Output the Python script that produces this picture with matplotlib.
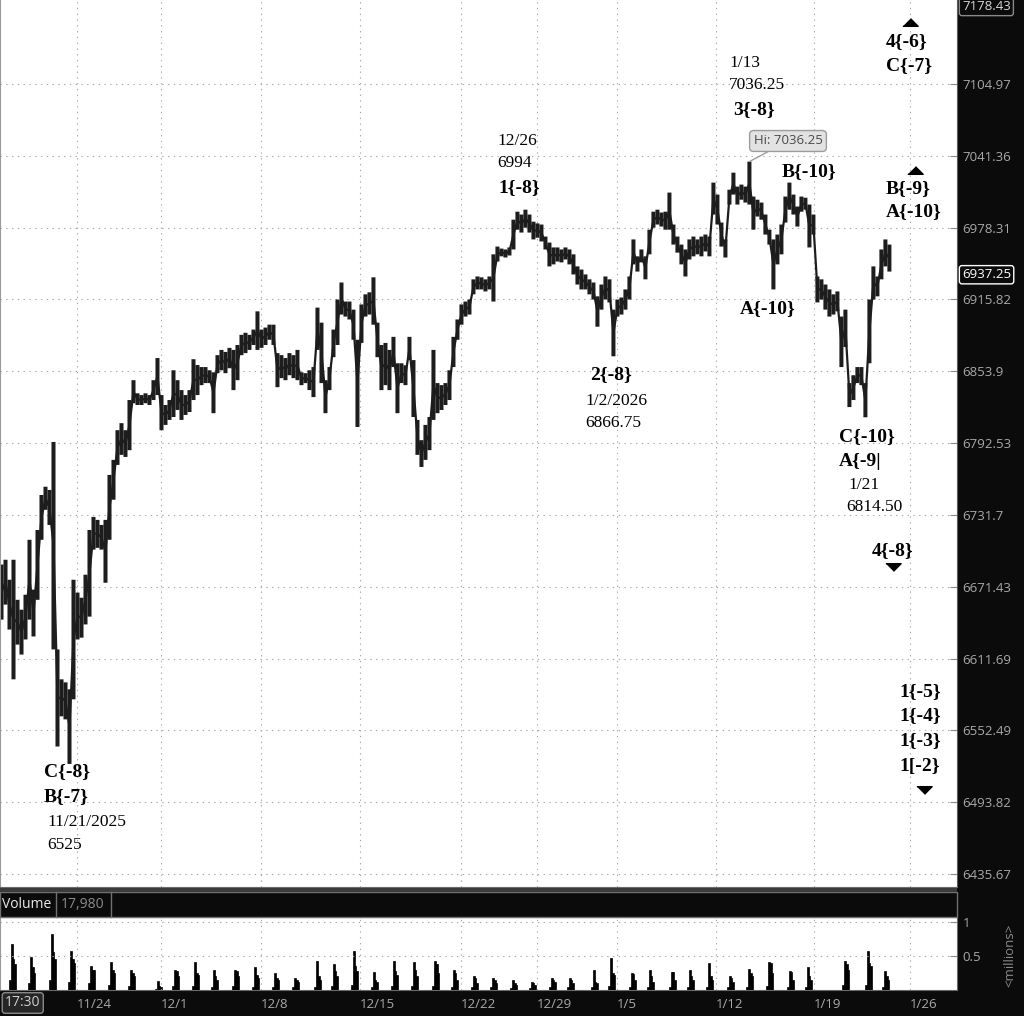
import numpy as np
import matplotlib
matplotlib.use("Agg")
import matplotlib.pyplot as plt
import matplotlib.transforms as mtransforms
from matplotlib.patches import Rectangle
from matplotlib.lines import Line2D

# ---- price bars (high / low per bar) ----
highs = [6690, 6694, 6677.25, 6694, 6660.5, 6652.25, 6664.75, 6710.75, 6669, 6719,
         6748.5, 6755.5, 6752.75, 6793.5, 6619.25, 6594.5, 6592, 6586.25, 6677.25, 6666.5,
         6662.25, 6681.5, 6719, 6730, 6727.5, 6723.25, 6727.5, 6765.5, 6778.25, 6803.5,
         6809.5, 6803.5, 6829.25, 6846.25, 6835, 6833.5, 6835, 6833.5, 6846.25, 6865.25,
         6833.5, 6825, 6829.25, 6854.75, 6846.25, 6837.75, 6833.5, 6837.75, 6864.25, 6859.25,
         6857.5, 6857.5, 6854.75, 6853, 6867.75, 6872.25, 6870.5, 6874, 6872.25, 6876.5,
         6885.25, 6887, 6885.25, 6889.75, 6905.5, 6889.75, 6891.5, 6894, 6894, 6869.5,
         6867.75, 6865.25, 6869.5, 6867.75, 6872.25, 6853, 6852.25, 6854.75, 6857.5, 6908.75,
         6895.75, 6846.25, 6857.5, 6889.75, 6915.75, 6930.5, 6914, 6914, 6907, 6881,
         6911.5, 6920.25, 6922, 6935, 6895.75, 6876.5, 6878.25, 6872.25, 6883.5, 6860.75,
         6860.75, 6859, 6883.5, 6863.5, 6812.25, 6795, 6808, 6814.75, 6872.25, 6843.75,
         6842, 6843.75, 6854.75, 6883.5, 6898.5, 6911.5, 6914, 6915.75, 6933.25, 6935.75,
         6935, 6933.25, 6935.75, 6955, 6961.75, 6960, 6959.25, 6961, 6985.25, 6992.25,
         6989.75, 6994, 6989.75, 6983.5, 6982, 6981, 6970.5, 6965.25, 6961, 6961,
         6959.25, 6961, 6959.25, 6955, 6944.5, 6941.75, 6937.5, 6933.25, 6930.5, 6918.5,
         6928.75, 6935.75, 6933.25, 6907, 6915.75, 6917.5, 6924.5, 6935.75, 6968, 6953.25,
         6959.25, 6953.25, 6976.5, 6992.25, 6994, 6991.5, 6992.25, 7009, 6981, 6970.5,
         6963.5, 6959.25, 6968, 6970.5, 6968, 6970.5, 6972.25, 6970.5, 7017.75, 7007.25,
         6982.75, 6968, 7011.5, 7026.5, 7014.25, 7016, 7014.25, 7036.25, 7005.5, 7002.75,
         7000.25, 6989.75, 6976.5, 6968, 6972.25, 6981, 7005.5, 7017.75, 7007.25, 6996.75,
         7005.5, 7004.5, 6998.5, 6989.75, 6935.75, 6933.25, 6928.75, 6924.5, 6920.25, 6922.75,
         6901, 6907, 6843.75, 6850.5, 6857.5, 6857.5, 6843.75, 6915.75, 6944.5, 6935.75,
         6959.25, 6968, 6963.5]
lows = [6644, 6656.5, 6635.75, 6594.5, 6623.25, 6615, 6627.5, 6644, 6630, 6660.5,
        6710.75, 6736, 6723.25, 6619.25, 6539.25, 6564, 6561.5, 6525, 6578, 6627.5,
        6629, 6640, 6646.5, 6702.5, 6704, 6702.5, 6674.75, 6710.75, 6744.5, 6774,
        6782.5, 6780.75, 6786.5, 6826.5, 6825, 6825, 6826.5, 6825, 6829.25, 6833.5,
        6803.5, 6808, 6812.25, 6814.75, 6820.75, 6812.25, 6816.5, 6819, 6829.25, 6833.5,
        6842, 6843.75, 6843.75, 6818, 6852.25, 6854.75, 6852.25, 6856.5, 6837.75, 6846.25,
        6867.75, 6869.5, 6872.25, 6876.5, 6872.25, 6874, 6876.5, 6881, 6876.5, 6840.25,
        6848, 6846.25, 6850.5, 6848, 6846.25, 6842, 6843.75, 6837.75, 6831.75, 6872.25,
        6843.75, 6818, 6837.75, 6866, 6876.5, 6902.75, 6901, 6898.5, 6881, 6806.25,
        6878.25, 6901, 6902.75, 6894, 6866, 6837.75, 6842, 6837.75, 6857.5, 6818,
        6843.75, 6842, 6863.5, 6814.75, 6782.5, 6772.25, 6778.25, 6786.5, 6812.25, 6818,
        6820.75, 6825, 6829.25, 6857.5, 6881, 6894, 6901, 6902.75, 6920.25, 6924.5,
        6924.5, 6922.75, 6924.5, 6914, 6948.75, 6953.25, 6952.25, 6954, 6959.25, 6976.5,
        6974, 6978.25, 6974, 6968, 6969.5, 6966.25, 6959.25, 6944.5, 6946.25, 6948.75,
        6948, 6950.5, 6946.25, 6937.5, 6928.75, 6924.5, 6924.5, 6920.25, 6915.75, 6892.25,
        6907, 6915.75, 6913.25, 6866.75, 6901, 6902.75, 6907, 6915.75, 6946.25, 6940,
        6948, 6933.25, 6955, 6978.25, 6981, 6979.25, 6976.5, 6976.5, 6963.5, 6956.5,
        6946.25, 6935.75, 6950.5, 6953.25, 6955, 6953.25, 6957.5, 6953.25, 6989.75, 6981,
        6961.75, 6952.25, 6998.5, 7007.25, 6998.5, 7002.75, 7000.25, 6998.5, 6976.5, 6988,
        6985.25, 6972.25, 6963.5, 6924.5, 6946.25, 6955, 6982.75, 6994, 6989.75, 6979.25,
        6992.25, 6994, 6961, 6972.25, 6913.25, 6915.75, 6907, 6901, 6902.75, 6905.5,
        6857.5, 6874.75, 6823.25, 6829.25, 6843.75, 6842, 6814.5, 6860.75, 6915.75, 6918.5,
        6933.25, 6944.5, 6940]

last_price = 6937.25
hi_price = 7036.25

price_ticks = [7104.97, 7041.36, 6978.31, 6915.82, 6853.9, 6792.53,
               6731.7, 6671.43, 6611.69, 6552.49, 6493.82, 6435.67]
price_labels = ["7104.97", "7041.36", "6978.31", "6915.82", "6853.9", "6792.53",
                "6731.7", "6671.43", "6611.69", "6552.49", "6493.82", "6435.67"]

date_ticks = [18.9, 39.9, 64.9, 89.6, 114.9, 133.9, 153.9, 178.6, 203.1, 227.1]
date_labels = ["11/24", "12/1", "12/8", "12/15", "12/22", "12/29", "1/5", "1/12", "1/19", "1/26"]

# ---- volume (millions), one cluster per session ----
vol_center = [2.6, 7.4, 12.6, 17.4, 22.4, 27.4, 32.4, 39.1, 43.4, 48.4, 53.1, 58.4, 63.4,
              68.4, 73.4, 78.9, 83.1, 88.1, 93.1, 98.1, 103.1, 108.4, 113.1, 118.1, 122.9,
              127.9, 132.6, 137.6, 142.1, 148.1, 152.4, 157.6, 162.1, 167.6, 172.1, 176.9,
              182.1, 186.9, 191.9, 197.1, 201.6, 210.9, 216.6, 220.9]
vol_pre = [0.15, 0.10, 0.15, 0.12, 0.10, 0.08, 0.06, 0.02, 0.06, 0.06, 0.05, 0.06, 0.05,
           0.05, 0.04, 0.05, 0.06, 0.08, 0.05, 0.06, 0.06, 0.06, 0.05, 0.04, 0.04,
           0.03, 0.03, 0.04, 0.04, 0.04, 0.06, 0.05, 0.05, 0.05, 0.05, 0.05,
           0.04, 0.05, 0.06, 0.05, 0.05, 0.08, 0.08, 0.05]
vol_peak = [0.68, 0.49, 0.82, 0.57, 0.35, 0.41, 0.30, 0.13, 0.30, 0.41, 0.30, 0.29, 0.33,
            0.25, 0.17, 0.42, 0.38, 0.57, 0.27, 0.42, 0.41, 0.42, 0.29, 0.20, 0.17,
            0.14, 0.11, 0.17, 0.17, 0.30, 0.47, 0.25, 0.29, 0.27, 0.30, 0.39,
            0.20, 0.31, 0.41, 0.28, 0.33, 0.42, 0.57, 0.28]
vol_mid = [0.45, 0.33, 0.55, 0.45, 0.30, 0.30, 0.25, 0.06, 0.28, 0.25, 0.20, 0.28, 0.22,
           0.18, 0.15, 0.20, 0.28, 0.35, 0.15, 0.28, 0.30, 0.38, 0.25, 0.18, 0.15,
           0.10, 0.10, 0.15, 0.14, 0.12, 0.25, 0.24, 0.20, 0.26, 0.20, 0.20,
           0.18, 0.25, 0.40, 0.27, 0.20, 0.38, 0.40, 0.20]
vol_end = [0.38, 0.25, 0.45, 0.40, 0.30, 0.25, 0.20, 0.04, 0.20, 0.22, 0.15, 0.20, 0.18,
           0.15, 0.12, 0.15, 0.20, 0.28, 0.12, 0.22, 0.20, 0.25, 0.15, 0.10, 0.10,
           0.08, 0.08, 0.12, 0.10, 0.10, 0.22, 0.15, 0.12, 0.15, 0.15, 0.15,
           0.12, 0.20, 0.25, 0.15, 0.15, 0.30, 0.35, 0.15]

W, H = 1024, 1016
PLOT_R, PLOT_B = 957, 887
BG = "#0b0b0b"
AXTXT = "#a9a9a9"
BAR = "#1d1d1d"
GRID = dict(color="#a8a8a8", linestyle=(0, (1.2, 4)), linewidth=0.8)


def frame(x0, y0, x1, y1):
    return [x0 / W, 1 - y1 / H, (x1 - x0) / W, (y1 - y0) / H]


fig = plt.figure(figsize=(W / 100, H / 100), dpi=100, facecolor=BG)
ax = fig.add_axes(frame(0, 0, PLOT_R, PLOT_B))
vax = fig.add_axes(frame(0, 917, PLOT_R, 990))

# ---- main price panel ----
bars = np.arange(len(highs))
hi = np.array(highs)
lo = np.array(lows)
ax.set_facecolor("white")
ax.vlines(bars, lo, hi, color=BAR, linewidth=2.9, snap=False)
ax.plot(bars, (hi + lo) / 2, color=BAR, linewidth=1.6, solid_joinstyle="miter")
ax.set_yscale("log")
ax.set_ylim(6425.2, 7180.1)
ax.set_xlim(-0.375, 238.9)
ax.set_yticks(price_ticks, labels=price_labels)
ax.minorticks_off()
ax.yaxis.tick_right()
ax.tick_params(axis="y", direction="in", length=5, color="#8a8a8a",
               labelcolor=AXTXT, labelsize=9.5, pad=4)
ax.set_xticks(date_ticks)
ax.tick_params(axis="x", length=0, labelbottom=False)
for lbl in ax.get_yticklabels():
    lbl.set_family("Open Sans")
ax.grid(True, **GRID)
ax.spines["top"].set_visible(False)
ax.spines["left"].set_color("#9a9a9a")
ax.spines["right"].set_color("#5a5a5a")
ax.spines["bottom"].set_color("#6a6a6a")


def lab(px, py, s, bold=True):
    ax.text(px / PLOT_R, 1 - py / PLOT_B, s, transform=ax.transAxes,
            ha="left", va="center", family="Liberation Serif",
            fontsize=14 if bold else 12.5,
            fontweight="bold" if bold else "normal", color="black")


def tri(px, py, up=True):
    verts = [(-1, -0.5), (1, -0.5), (0, 0.5)] if up else [(-1, 0.5), (1, 0.5), (0, -0.5)]
    ax.plot([px / PLOT_R], [1 - py / PLOT_B], transform=ax.transAxes, marker=verts,
            markersize=11, color="black", linestyle="none", clip_on=False)


lab(44, 772, "C{-8}")
lab(44, 797, "B{-7}")
lab(47, 822, "11/21/2025", False)
lab(47, 845, "6525", False)
lab(497, 141, "12/26", False)
lab(497, 163, "6994", False)
lab(498, 188, "1{-8}")
lab(729, 63, "1/13", False)
lab(729, 85, "7036.25", False)
lab(733, 110, "3{-8}")
lab(782, 172, "B{-10}")
lab(740, 309, "A{-10}")
lab(590, 375, "2{-8}")
lab(585, 401, "1/2/2026", False)
lab(585, 423, "6866.75", False)
lab(839, 437, "C{-10}")
lab(839, 461, "A{-9|")
lab(848, 485, "1/21", False)
lab(846, 507, "6814.50", False)
lab(872, 551, "4{-8}")
tri(893, 567, up=False)
tri(910, 22)
lab(886, 42, "4{-6}")
lab(886, 66, "C{-7}")
tri(915, 170)
lab(886, 189, "B{-9}")
lab(886, 212, "A{-10}")
lab(899, 692, "1{-5}")
lab(899, 716, "1{-4}")
lab(899, 741, "1{-3}")
lab(899, 767, "1[-2}")
tri(924, 790, up=False)

# "Hi" callout bubble
ax.annotate("Hi: 7036.25", xy=(187, hi_price), xycoords="data",
            xytext=(788 / PLOT_R, 1 - 141 / PLOT_B), textcoords="axes fraction",
            ha="center", va="center", fontsize=9.5, family="Open Sans", color="#4a4a4a",
            bbox=dict(boxstyle="round,pad=0.3", fc="#e2e2e2", ec="#9c9c9c", lw=1),
            arrowprops=dict(arrowstyle="-", color="#9c9c9c", lw=1, shrinkA=0, shrinkB=0))

# price boxes on the right axis
blend = mtransforms.blended_transform_factory(ax.transAxes, ax.transData)
ax.text(1 + 5 / PLOT_R, last_price, "6937.25", transform=blend, ha="left", va="center",
        fontsize=9.5, family="Open Sans", color="white", clip_on=False,
        bbox=dict(boxstyle="round,pad=0.2", fc=BG, ec="white", lw=1))
ax.text(1 + 5 / PLOT_R, 1.0, "7178.43", transform=ax.transAxes, ha="left", va="top",
        fontsize=9.5, family="Open Sans", color="#d8d8d8", clip_on=False,
        bbox=dict(boxstyle="round,pad=0.2", fc=BG, ec="#8a8a8a", lw=1))

# ---- volume header strip ----
fig.patches.append(Rectangle((0, 1 - 917 / H), PLOT_R / W, 25 / H, transform=fig.transFigure,
                             fc=BG, ec="#707070", lw=1))
fig.patches.append(Rectangle((0, 1 - 892 / H), PLOT_R / W, 4 / H, transform=fig.transFigure,
                             fc="#3c3c3c", ec="none"))
for sx in (56, 111):
    fig.lines.append(Line2D([sx / W, sx / W], [1 - 917 / H, 1 - 892 / H],
                            transform=fig.transFigure, color="#707070", lw=1))
fig.text(2 / W, 1 - 904.5 / H, "Volume", color="#ececec", fontsize=10, family="Open Sans",
         va="center")
fig.text(61 / W, 1 - 904.5 / H, "17,980", color="#8c8c8c", fontsize=10, family="Open Sans",
         va="center")

# ---- volume panel ----
vax.set_facecolor("white")
vc = np.array(vol_center)
vx = np.concatenate([vc - 0.375, vc, vc + 0.375, vc + 0.75])
vy = np.concatenate([vol_pre, vol_peak, vol_mid, vol_end])
vax.bar(vx, vy, width=0.55, color="black", edgecolor="black", linewidth=0.5)
vax.set_xlim(ax.get_xlim())
vax.set_ylim(0, 1.07)
vax.set_yticks([0.5, 1.0], labels=["0.5", "1"])
vax.yaxis.tick_right()
vax.tick_params(axis="y", direction="in", length=5, color="#8a8a8a",
                labelcolor=AXTXT, labelsize=9.5, pad=4)
vax.set_xticks(date_ticks, labels=date_labels)
vax.tick_params(axis="x", length=0, labelcolor=AXTXT, labelsize=9.5, pad=6)
for lbl in vax.get_xticklabels() + vax.get_yticklabels():
    lbl.set_family("Open Sans")
for lbl in vax.get_xticklabels():
    lbl.set_ha("left")
vax.grid(True, **GRID)
for side in ("top", "left", "right", "bottom"):
    vax.spines[side].set_color("#6a6a6a")
vax.spines["left"].set_color("#9a9a9a")

fig.text(1010 / W, 1 - 955 / H, "<millions>", rotation=90, color="#8c8c8c", fontsize=9.5,
         family="Open Sans", ha="center", va="center")
fig.text(5 / W, 1 - 1003 / H, "17:30", color="#d0d0d0", fontsize=10, family="Open Sans",
         va="center", bbox=dict(boxstyle="round,pad=0.2", fc="#262626", ec="#8a8a8a", lw=1))

fig.savefig("out.png", dpi=100, facecolor=BG)
